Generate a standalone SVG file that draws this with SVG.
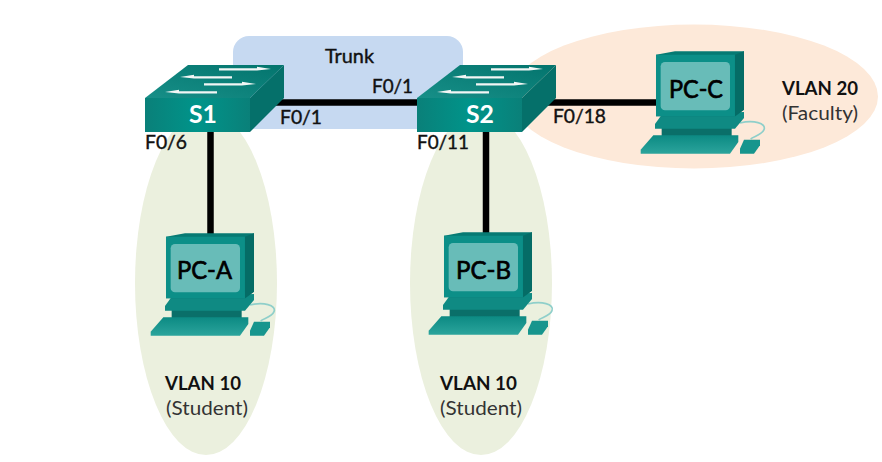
<svg xmlns="http://www.w3.org/2000/svg" xmlns:xlink="http://www.w3.org/1999/xlink" width="882" height="462" viewBox="0 0 882 462">
<style>
text{font-family:"Lato","Open Sans",sans-serif;fill:#111;font-size:19.500px}
.p{stroke:#111;stroke-width:.4px}
.b{font-weight:700;font-size:18.500px}
.sw{font-weight:700;fill:#fff;font-size:24px}
.pc{font-size:25px;stroke:#000;stroke-width:.7px;fill:#000}
.link{stroke:#000;stroke-width:6.500;fill:none}
</style>
<defs>
<linearGradient id="fr" x1="0" x2="1" y1="0" y2="0"><stop offset="0" stop-color="#0a8079"/><stop offset=".5" stop-color="#00948a"/><stop offset="1" stop-color="#0a8079"/></linearGradient>
<linearGradient id="tp" x1="0" x2="1" y1="1" y2="0"><stop offset="0" stop-color="#178f88"/><stop offset="1" stop-color="#03746d"/></linearGradient>
<linearGradient id="kb" x1="0" x2="0" y1="0" y2="1"><stop offset="0" stop-color="#0c8a83"/><stop offset="1" stop-color="#2ba49c"/></linearGradient>
<path id="arrR" d="M0 -.8L38 -.8L38 -2.200L52 0L38 1.400L0 1.400Z" fill="#f2f6f5"/>
<path id="arrL" d="M52 -.8L14 -.8L14 -2.200L0 0L14 1.400L52 1.400Z" fill="#f2f6f5"/>
<g id="switch">
<path d="M0 0L43 -33L139 -33L105 0Z" fill="url(#tp)"/>
<path d="M105 0L139 -33L139 0L105 34Z" fill="#05706a"/>
<rect x="0" y="0" width="105" height="34" fill="url(#fr)"/>
<use xlink:href="#arrR" x="74" y="-29"/>
<use xlink:href="#arrL" x="35" y="-21"/>
<use xlink:href="#arrR" x="59" y="-14"/>
<use xlink:href="#arrL" x="20" y="-6"/>
</g>
<g id="pcshape" transform="scale(.33333)">
<path d="M360 255C400 245 440 255 432 275C425 292 400 295 392 303" fill="none" stroke="#8fcfca" stroke-width="5"/>
<path d="M125 265L335 265L335 295L125 295Z" fill="#0a6f69"/>
<path d="M125 230L372 222L372 240L345 272L105 272L105 258Z" fill="#0f8a83"/>
<path d="M100 292L355 292L355 312L330 347L62 347L62 335Z" fill="url(#kb)"/>
<path d="M372 305L420 305L420 322L402 347L360 347L360 332Z" fill="#16958d"/>
<path d="M108 50L165 40L372 40L372 215L345 235L108 235Z" fill="#067a73"/>
<path d="M108 50L345 50L345 235L108 235Z" fill="#0c8f88"/>
<path d="M345 50L372 40L372 215L345 235Z" fill="#056c66"/>
<rect x="122" y="72" width="208" height="145" rx="13" fill="#68bcb8"/>
</g>
</defs>
<rect width="882" height="462" fill="#fff"/>
<g id="regions">
<rect x="233" y="36" width="230" height="93" rx="16" fill="#c6d9f1"/>
<ellipse cx="206" cy="283" rx="71" ry="172" fill="#ebf0de"/>
<ellipse cx="481" cy="283" rx="71" ry="172" fill="#ebf0de"/>
<ellipse cx="694" cy="96.500" rx="184" ry="72" fill="#fde9d9"/>
</g>
<g id="connectors">
<path class="link" d="M275 102.500H425"/>
<path class="link" d="M545 102.500H662"/>
<path class="link" d="M210.500 128V238"/>
<path class="link" d="M486 128V236"/>
</g>
<g id="S1"><use xlink:href="#switch" x="145" y="98"/><text class="sw" x="189" y="123" textLength="28" lengthAdjust="spacingAndGlyphs">S1</text></g>
<g id="S2"><use xlink:href="#switch" x="417" y="98"/><text class="sw" x="466" y="123" textLength="28" lengthAdjust="spacingAndGlyphs">S2</text></g>
<g id="PC-A"><use xlink:href="#pcshape" x="130" y="220"/><text class="pc" x="177" y="279" textLength="55" lengthAdjust="spacingAndGlyphs">PC-A</text></g>
<g id="PC-B"><use xlink:href="#pcshape" x="408" y="219"/><text class="pc" x="456" y="279" textLength="55" lengthAdjust="spacingAndGlyphs">PC-B</text></g>
<g id="PC-C"><use xlink:href="#pcshape" x="620" y="38"/><text class="pc" x="669" y="98" textLength="54" lengthAdjust="spacingAndGlyphs">PC-C</text></g>
<g id="labels">
<text class="p" x="325" y="63" textLength="49" lengthAdjust="spacingAndGlyphs">Trunk</text>
<text class="p" x="372" y="93" textLength="41" lengthAdjust="spacingAndGlyphs">F0/1</text>
<text class="p" x="280" y="124" textLength="42" lengthAdjust="spacingAndGlyphs">F0/1</text>
<text class="p" x="145" y="149" textLength="42" lengthAdjust="spacingAndGlyphs">F0/6</text>
<text class="p" x="417" y="149" textLength="52" lengthAdjust="spacingAndGlyphs">F0/11</text>
<text class="p" x="553" y="123" textLength="53" lengthAdjust="spacingAndGlyphs">F0/18</text>
<text class="b" x="782" y="95" textLength="76" lengthAdjust="spacingAndGlyphs">VLAN 20</text>
<text x="782" y="120" style="fill:#333" textLength="76" lengthAdjust="spacingAndGlyphs">(Faculty)</text>
<text class="b" x="165" y="390" textLength="76" lengthAdjust="spacingAndGlyphs">VLAN 10</text>
<text x="166" y="415" style="fill:#333" textLength="82" lengthAdjust="spacingAndGlyphs">(Student)</text>
<text class="b" x="440" y="390" textLength="77" lengthAdjust="spacingAndGlyphs">VLAN 10</text>
<text x="440" y="415" style="fill:#333" textLength="82" lengthAdjust="spacingAndGlyphs">(Student)</text>
</g>
</svg>
